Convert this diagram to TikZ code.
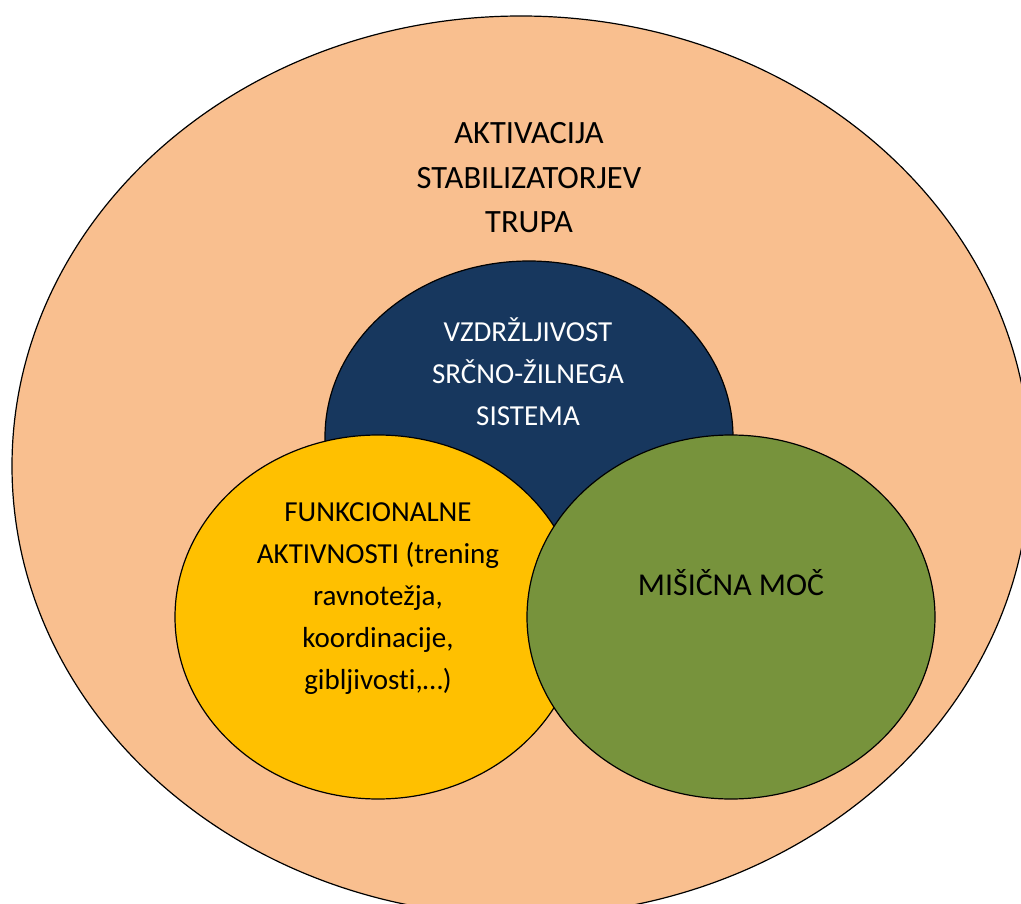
\documentclass[tikz,border=0pt]{standalone}
\usepackage{fontspec}
\setmainfont{Carlito}[RawFeature=-liga]
\usepackage{tikz}
\usepackage{xcolor}
\usetikzlibrary{shapes.geometric, positioning}

\definecolor{trupColor}{HTML}{F9BF8F}
\definecolor{srceColor}{HTML}{17375E}
\definecolor{funkColor}{HTML}{FFC000}
\definecolor{mocColor}{HTML}{77933C}

\tikzset{
  krog/.style={ellipse, draw=black, line width=1.2pt, inner sep=0pt},
  napis/.style={align=center, font=\fontsize{29}{42}\selectfont, inner sep=0pt}
}

\begin{document}
\begin{tikzpicture}[x=1pt, y=-1pt]
    \useasboundingbox (0,0) rectangle (1021,904);
    \clip (0,0) rectangle (1021,904);
    % zunanji krog
    \node[krog, fill=trupColor, minimum width=1018pt, minimum height=900pt] (trup) at (521,466) {};
    \node[napis, font=\fontsize{32.5}{44.5}\selectfont] (trupText) at (529,178) {AKTIVACIJA\\STABILIZATORJEV\\TRUPA};
    % notranji krogi
    \node[krog, fill=srceColor, minimum width=408pt, minimum height=352pt] (srce) at (529,437) {};
    \node[krog, fill=funkColor, minimum width=406pt, minimum height=364pt] (funk) at (378,617) {};
    \node[krog, fill=mocColor, minimum width=408pt, minimum height=364pt] (moc) at (731,617) {};
    \node[napis, text=white] (srceText) at (528,372) {VZDRŽLJIVOST\\SRČNO-ŽILNEGA\\SISTEMA};
    \node[napis] (funkText) at (378,599) {FUNKCIONALNE\\AKTIVNOSTI (trening\\ravnotežja,\\koordinacije,\\gibljivosti,…)};
    \node[napis, font=\fontsize{31.8}{42}\selectfont] (mocText) at (731,583) {MIŠIČNA MOČ};
\end{tikzpicture}
\end{document}
